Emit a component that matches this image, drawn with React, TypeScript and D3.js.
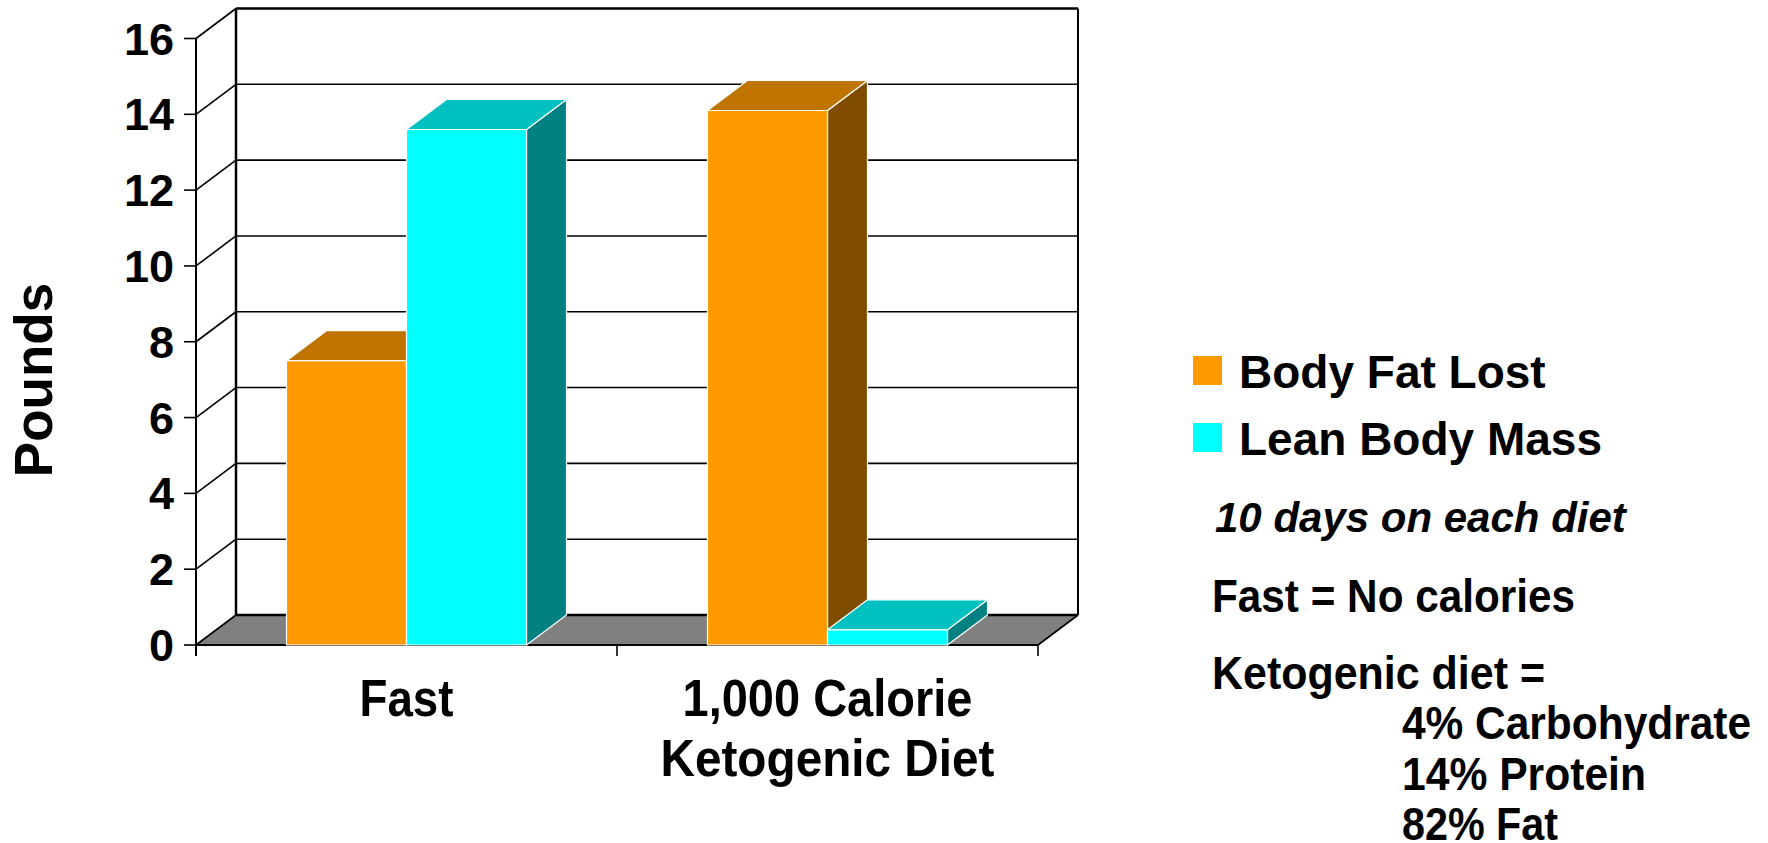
import React from "react";
import * as d3 from "d3";

const categories = ["Fast", "1,000 Calorie|Ketogenic Diet"];
const seriesNames = ["Body Fat Lost", "Lean Body Mass"];
const bodyFatLost = [7.5, 14.1];
const leanBodyMass = [13.6, 0.4];
const yTicks = [0, 2, 4, 6, 8, 10, 12, 14, 16];
const notes = ["Fast = No calories", "Ketogenic diet ="];
const ketoParts = ["4% Carbohydrate", "14% Protein", "82% Fat"];

const W = 1768;
const H = 843;
const X0 = 196;
const X1 = 1038;
const DX = 40;
const DY = -30;

const frontColors = ["#FF9900", "#00FFFF"];
const topColors = ["#C07400", "#00C0C0"];
const sideColors = ["#804C00", "#008080"];

const FONT = "'Liberation Sans', Arial, Helvetica, sans-serif";

export default function App() {
  const y = d3.scaleLinear().domain([0, 16]).range([645, 38.5]);
  const xCat = d3.scaleBand<string>().domain(categories).range([X0, X1]).padding(0);
  const xSer = d3
    .scaleBand<string>()
    .domain(seriesNames)
    .range([0, xCat.bandwidth()])
    .paddingInner(0)
    .paddingOuter(0.754);
  const values = [bodyFatLost, leanBodyMass];
  const y0 = y(0);

  const bars: any[] = [];
  categories.forEach((c, ci) => {
    seriesNames.forEach((s, si) => {
      const v = values[si][ci];
      const bx = (xCat(c) as number) + (xSer(s) as number);
      const bw = xSer.bandwidth();
      const ty = y(v);
      const key = `${ci}-${si}`;
      bars.push(
        <g key={key} stroke="#fff" strokeWidth={1.2} strokeLinejoin="round">
          <polygon
            points={`${bx + bw},${y0} ${bx + bw + DX},${y0 + DY} ${bx + bw + DX},${ty + DY} ${bx + bw},${ty}`}
            fill={sideColors[si]}
          />
          <polygon
            points={`${bx},${ty} ${bx + DX},${ty + DY} ${bx + bw + DX},${ty + DY} ${bx + bw},${ty}`}
            fill={topColors[si]}
          />
          <rect x={bx} y={ty} width={bw} height={y0 - ty} fill={frontColors[si]} />
        </g>
      );
    });
  });

  const catLabelLengths = [[94], [290, 334]];
  const catBaselines = [716, 776];

  return (
    <svg
      width={W}
      height={H}
      style={{ position: "absolute", left: 0, top: 0, display: "block", background: "#fff" }}
      fontFamily={FONT}
    >
      {/* floor */}
      <polygon
        points={`${X0},${y0} ${X1},${y0} ${X1 + DX},${y0 + DY} ${X0 + DX},${y0 + DY}`}
        fill="#808080"
      />
      {/* back wall gridlines */}
      {yTicks.map((t) => (
        <g key={`g${t}`} stroke="#000">
          <line
            x1={X0 + DX}
            x2={X1 + DX}
            y1={y(t) + DY}
            y2={y(t) + DY}
            strokeWidth={t === 16 || t === 0 ? 2.5 : 1.6}
          />
          <line x1={X0} x2={X0 + DX} y1={y(t)} y2={y(t) + DY} strokeWidth={1.6} />
          <line x1={X0 - 12} x2={X0} y1={y(t)} y2={y(t)} strokeWidth={1.6} />
        </g>
      ))}
      {/* back wall edges */}
      <line x1={X0 + DX} x2={X0 + DX} y1={y(16) + DY} y2={y0 + DY} stroke="#000" strokeWidth={2.5} />
      <line x1={X1 + DX} x2={X1 + DX} y1={y(16) + DY} y2={y0 + DY} stroke="#000" strokeWidth={2} />
      {/* front axis */}
      <line x1={X0} x2={X0} y1={y(16)} y2={y0 + 11} stroke="#000" strokeWidth={2} />
      <line x1={X0} x2={X1} y1={y0} y2={y0} stroke="#000" strokeWidth={2} />
      <line x1={X1} x2={X1 + DX} y1={y0} y2={y0 + DY} stroke="#000" strokeWidth={1.6} />
      {[X0, X0 + xCat.bandwidth(), X1].map((x, i) => (
        <line key={`xt${i}`} x1={x} x2={x} y1={y0} y2={y0 + 11} stroke="#000" strokeWidth={1.6} />
      ))}

      {bars}

      {/* y tick labels */}
      {yTicks.map((t) => (
        <text
          key={`yl${t}`}
          x={174}
          y={y(t) + 16}
          textAnchor="end"
          fontSize={45}
          fontWeight="bold"
          fill="#000"
        >
          {t}
        </text>
      ))}
      <text
        transform="translate(52,380) rotate(-90)"
        textAnchor="middle"
        fontSize={53}
        fontWeight="bold"
        fill="#000"
      >
        Pounds
      </text>

      {/* category labels */}
      {categories.map((c, ci) => {
        const cx = (xCat(c) as number) + xCat.bandwidth() / 2;
        return c.split("|").map((line, li) => (
          <text
            key={`c${ci}-${li}`}
            x={cx}
            y={catBaselines[li]}
            textAnchor="middle"
            fontSize={52}
            fontWeight="bold"
            textLength={catLabelLengths[ci][li]}
            lengthAdjust="spacingAndGlyphs"
            fill="#000"
          >
            {line}
          </text>
        ));
      })}

      {/* legend */}
      {seriesNames.map((s, si) => (
        <g key={`lg${si}`}>
          <rect x={1193} y={356 + si * 67} width={29} height={29} fill={frontColors[si]} />
          <text x={1239} y={388 + si * 67} fontSize={46} fontWeight="bold" fill="#000">
            {s}
          </text>
        </g>
      ))}

      <text x={1215} y={532} fontSize={42} fontWeight="bold" fontStyle="italic" fill="#000">
        10 days on each diet
      </text>
      {notes.map((n, i) => (
        <text
          key={`n${i}`}
          x={1212}
          y={612 + i * 77}
          fontSize={46}
          fontWeight="bold"
          textLength={[363, 333][i]}
          lengthAdjust="spacingAndGlyphs"
          fill="#000"
        >
          {n}
        </text>
      ))}
      {ketoParts.map((n, i) => (
        <text
          key={`k${i}`}
          x={1402}
          y={739 + i * 50.5}
          fontSize={46}
          fontWeight="bold"
          textLength={[349, 244, 156][i]}
          lengthAdjust="spacingAndGlyphs"
          fill="#000"
        >
          {n}
        </text>
      ))}
    </svg>
  );
}
